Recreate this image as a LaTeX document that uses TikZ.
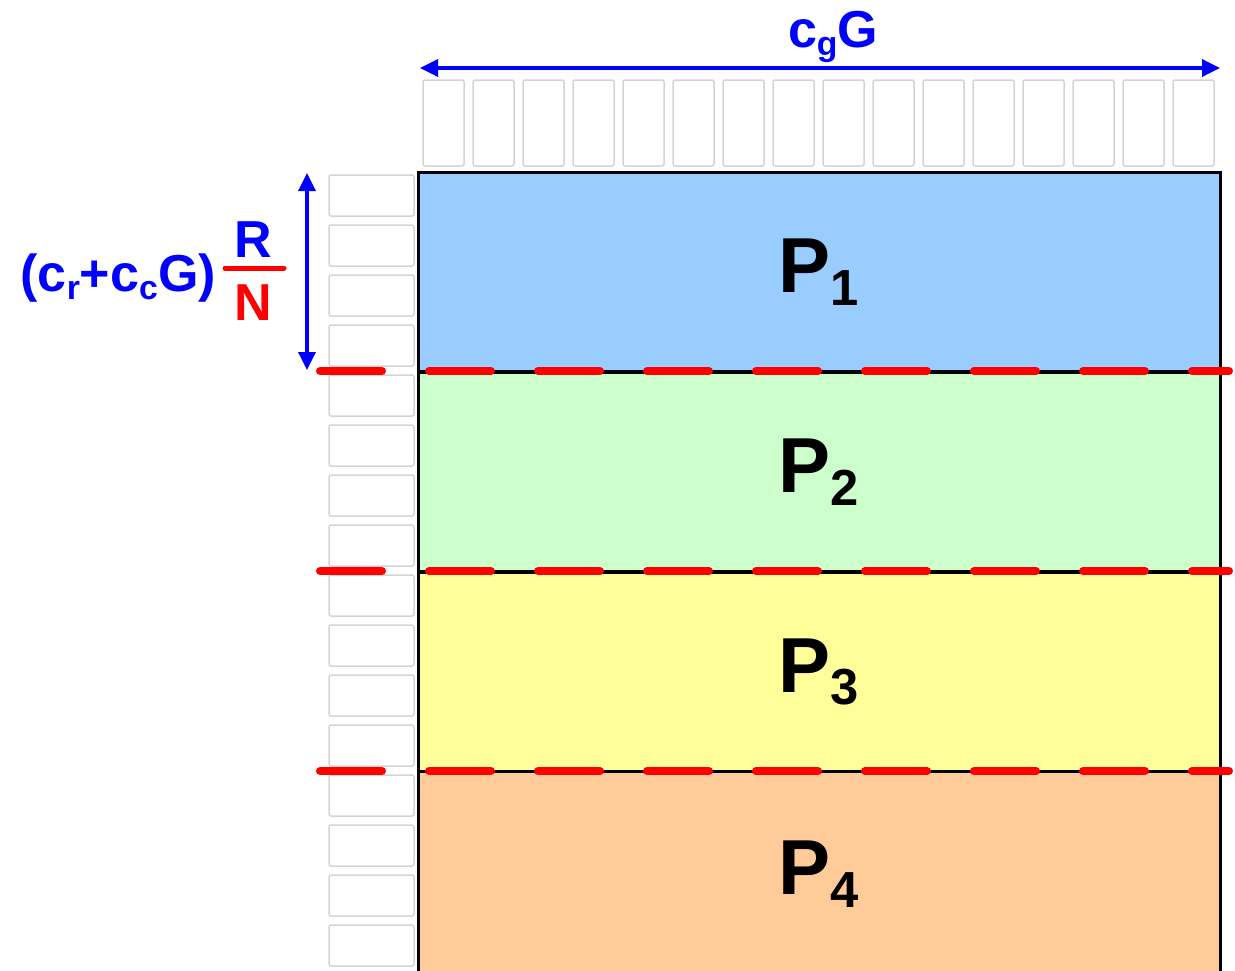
\documentclass[tikz,border=0pt]{standalone}
\usepackage{fontspec}
\setmainfont{Liberation Sans}
\usetikzlibrary{arrows.meta}
\definecolor{part_blue}{RGB}{153, 204, 255}
\definecolor{part_green}{RGB}{204, 255, 204}
\definecolor{part_yellow}{RGB}{255, 255, 153}
\definecolor{part_orange}{RGB}{255, 204, 153}
\definecolor{cell_grey}{RGB}{212, 212, 212}
\definecolor{dim_blue}{RGB}{0, 0, 255}
\definecolor{cut_red}{RGB}{255, 0, 0}
\newcommand{\lowidx}[1]{\raisebox{-0.3ex}{\scalebox{0.65}{#1}}}

\begin{document}
\begin{tikzpicture}[x=1pt, y=-1pt,
    cell/.style={draw=cell_grey, line width=1.5pt, rounded corners=2pt},
    part/.style={draw=black, line width=3pt, minimum width=802pt, minimum height=199pt, inner sep=0pt,
      font=\bfseries\fontsize{78}{80}\selectfont},
    dimarrow/.style={draw=dim_blue, line width=3.5pt,
      {Triangle[length=18pt,width=17pt]}-{Triangle[length=18pt,width=17pt]}},
    cutline/.style={draw=cut_red, line width=8pt, line cap=round, dash pattern=on 62pt off 47pt},
    dimlabel/.style={font=\bfseries\fontsize{52}{56}\selectfont, anchor=base, inner sep=0pt}]

    \useasboundingbox (0,0) rectangle (1235,970);

    % Column cells
    \foreach \i in {0,...,15} {
      \draw[cell] (423+50*\i,80) rectangle (464+50*\i,166);
    }

    % Row cells
    \foreach \j in {0,...,15} {
      \draw[cell] (329,175+50*\j) rectangle (414,216+50*\j);
    }

    % Partitions
    \foreach \k/\col in {1/part_blue, 2/part_green, 3/part_yellow} {
      \node[part, fill=\col] (P\k) at (819,72+200*\k) {P\lowidx{\k}};
    }
    \node[part, fill=part_orange, minimum height=206pt] (P4) at (819,874) {P\lowidx{4}};

    % Cuts
    \foreach \k in {1,2,3} {
      \draw[cutline] (320,171+200*\k) -- (1229,171+200*\k);
    }

    % Width of the grid
    \coordinate (colL) at (420,68);
    \coordinate (colR) at (1220,68);
    \draw[dimarrow] (colL) -- (colR);
    \node[dimlabel, text=dim_blue] (colsize) at (833,47) {c\lowidx{g}G};

    % Height of one partition
    \coordinate (rowT) at (307,173);
    \coordinate (rowB) at (307,370);
    \draw[dimarrow] (rowT) -- (rowB);
    \node[dimlabel, text=dim_blue, anchor=base east] (rowsize) at (216,291) {(c\lowidx{r}+c\lowidx{c}G)};
    \node[dimlabel, text=dim_blue] (num) at (253,257) {R};
    \node[dimlabel, text=cut_red] (den) at (253,320) {N};
    \draw[cut_red, line width=5pt, line cap=round] (225,268) -- (284,268);

  \end{tikzpicture}
\end{document}
